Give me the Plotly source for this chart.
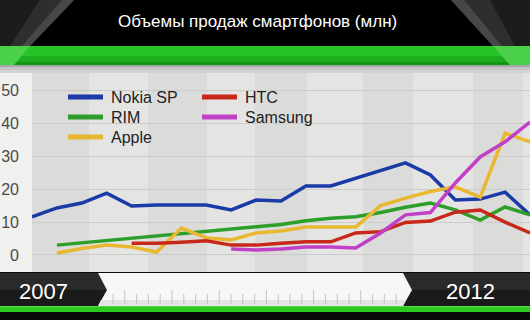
import plotly.graph_objects as go

W, H = 530, 320

quarters = [f"{y} Q{q}" for y in range(2007, 2013) for q in range(1, 5)][:21]

nokia = [11.6, 14.3, 15.8, 18.8, 14.9, 15.2, 15.2, 15.2, 13.7, 16.7, 16.4,
         21.0, 21.0, 23.4, 25.8, 28.0, 24.3, 16.7, 17.0, 19.1, 12.2]
rim = [None, 3.0, 3.7, 4.4, 5.1, 5.8, 6.5, 7.2, 7.8, 8.5, 9.3,
       10.4, 11.2, 11.6, 12.9, 14.5, 15.8, 13.7, 10.6, 14.6, 12.2]
apple = [None, 0.6, 2.0, 3.0, 2.4, 0.9, 8.2, 5.2, 4.6, 6.7, 7.3,
         8.5, 8.5, 8.5, 15.0, 17.3, 19.3, 20.7, 17.6, 37.0, 34.4]
htc = [None, None, None, None, 3.6, 3.6, 3.9, 4.3, 3.0, 3.0, 3.6,
       4.0, 4.0, 6.7, 7.1, 9.9, 10.3, 13.0, 13.7, 10.0, 6.7]
samsung = [None, None, None, None, None, None, None, None, 1.8, 1.5, 1.8,
           2.4, 2.4, 2.1, 6.7, 12.2, 12.9, 21.9, 29.8, 34.4, 40.4]

series = [
    ("Nokia SP", nokia, "#1a3aa8"),
    ("RIM", rim, "#2e9e2a"),
    ("Apple", apple, "#e8b830"),
    ("HTC", htc, "#c8281a"),
    ("Samsung", samsung, "#c040c8"),
]

title = "Объемы продаж смартфонов (млн)"
y_ticks = [0, 10, 20, 30, 40, 50]
start_label, end_label = "2007", "2012"

FONT = "Liberation Sans, Arial, sans-serif"


def X(px):
    return px / W


def Y(py):
    return 1 - py / H


fig = go.Figure()
for name, vals, col in series:
    fig.add_trace(go.Scatter(x=quarters, y=vals, mode="lines", name=name,
                             line=dict(color=col, width=3.5), showlegend=False,
                             connectgaps=False))

shapes = []


def rect(x0, y0, x1, y1, color, layer="below"):
    shapes.append(dict(type="rect", xref="paper", yref="paper",
                       x0=X(x0), x1=X(x1), y0=Y(y1), y1=Y(y0),
                       fillcolor=color, line=dict(width=0), layer=layer))


def poly(pts, color, layer="below"):
    d = "M " + " L ".join(f"{X(a):.5f},{Y(b):.5f}" for a, b in pts) + " Z"
    shapes.append(dict(type="path", xref="paper", yref="paper", path=d,
                       fillcolor=color, line=dict(width=0), layer=layer))


def seg(x0, y0, x1, y1, color, width, layer="below"):
    shapes.append(dict(type="line", xref="paper", yref="paper",
                       x0=X(x0), x1=X(x1), y0=Y(y0), y1=Y(y1),
                       line=dict(color=color, width=width), layer=layer))


# plot background + stripes
rect(0, 60, 530, 275, "#e0e0de")
rect(0, 60, 32, 275, "#f0f0ee")
bounds = [32, 89, 148, 207, 255, 307, 363, 413, 473, 523, 530]
for i in range(len(bounds) - 1):
    rect(bounds[i], 60, bounds[i + 1], 275, "#dbdbd9" if i % 2 == 0 else "#e4e4e2")
# shadow under green band
rect(0, 64, 530, 67, "#a8a8a8")
rect(0, 67, 530, 70, "#c4c4c4")
rect(0, 70, 530, 73, "#d2d2d0")

# title bar
rect(0, 0, 530, 46, "#000000", "above")
poly([(0, 0), (74, 0), (30, 46), (0, 46)], "#1c1c1c", "above")
poly([(40, 0), (74, 0), (30, 46), (10, 46)], "#2e2e2e", "above")
poly([(62, 0), (74, 0), (30, 46), (22, 46)], "#474747", "above")
poly([(451, 0), (530, 0), (530, 46), (493, 46)], "#1c1c1c", "above")
poly([(451, 0), (490, 0), (515, 46), (493, 46)], "#2e2e2e", "above")
poly([(451, 0), (464, 0), (502, 46), (493, 46)], "#474747", "above")
# green band
rect(0, 46, 530, 56, "#26c426", "above")
rect(0, 56, 530, 62, "#1cae1c", "above")
rect(0, 62, 530, 65, "#149614", "above")
poly([(0, 46), (30, 46), (14, 65), (0, 65)], "#4ad04a", "above")
poly([(493, 46), (530, 46), (530, 65), (510, 65)], "#4ad04a", "above")

# bottom timeline
rect(0, 272, 530, 320, "#0a0a0a", "above")
rect(0, 273, 530, 290, "#2a2a2a", "above")
rect(0, 290, 530, 306, "#1a1a1a", "above")
poly([(98, 273), (403, 273), (412, 290), (403, 306), (98, 306), (107, 290)],
     "#f7f7f5", "above")
poly([(98, 300), (406, 300), (403, 306), (98, 306), (101, 300)], "#e4e4e2", "above")
for k in range(26):
    xx = 113 + k * 11.8
    if xx > 400:
        break
    top = 290 if k % 4 == 1 else 294
    seg(xx, top, xx, 304, "#c4c4c4", 1, "above")
rect(0, 306, 530, 312, "#2ec822", "above")
rect(0, 306, 530, 307, "#5ad850", "above")

# legend (manual)
legend_pos = [(68, 97), (68, 117), (68, 137), (202, 97), (202, 117)]
annotations = []
for (name, vals, col), (lx, ly) in zip(series, legend_pos):
    seg(lx, ly, lx + 35, ly, col, 5, "above")
    annotations.append(dict(x=X(lx + 41), y=Y(ly), xref="paper", yref="paper",
                            text=name, showarrow=False, xanchor="left", yanchor="middle",
                            font=dict(family=FONT, size=16, color="#222222")))

annotations.append(dict(x=X(257), y=Y(21), xref="paper", yref="paper", text=title,
                        showarrow=False, xanchor="center", yanchor="middle",
                        font=dict(family=FONT, size=17, color="#ffffff")))
annotations.append(dict(x=X(43), y=Y(291), xref="paper", yref="paper", text=start_label,
                        showarrow=False, xanchor="center", yanchor="middle",
                        font=dict(family=FONT, size=22, color="#ffffff")))
annotations.append(dict(x=X(470), y=Y(291), xref="paper", yref="paper", text=end_label,
                        showarrow=False, xanchor="center", yanchor="middle",
                        font=dict(family=FONT, size=22, color="#ffffff")))

fig.update_layout(
    width=W, height=H, margin=dict(l=0, r=0, t=0, b=0),
    paper_bgcolor="#000000", plot_bgcolor="rgba(0,0,0,0)",
    shapes=shapes, annotations=annotations, showlegend=False,
    xaxis=dict(domain=[X(32), 1], range=[0, 20], showgrid=False, showticklabels=False,
               zeroline=False, showline=False, ticks=""),
    yaxis=dict(domain=[Y(272), Y(68)], range=[-5.17, 56.84], tickvals=y_ticks,
               showgrid=True, gridcolor="#cbcbcb", gridwidth=1, zeroline=False,
               ticks="", ticklabelstandoff=12,
               tickfont=dict(family=FONT, size=16, color="#4a4a4a")),
)

fig.write_html("out.html")
